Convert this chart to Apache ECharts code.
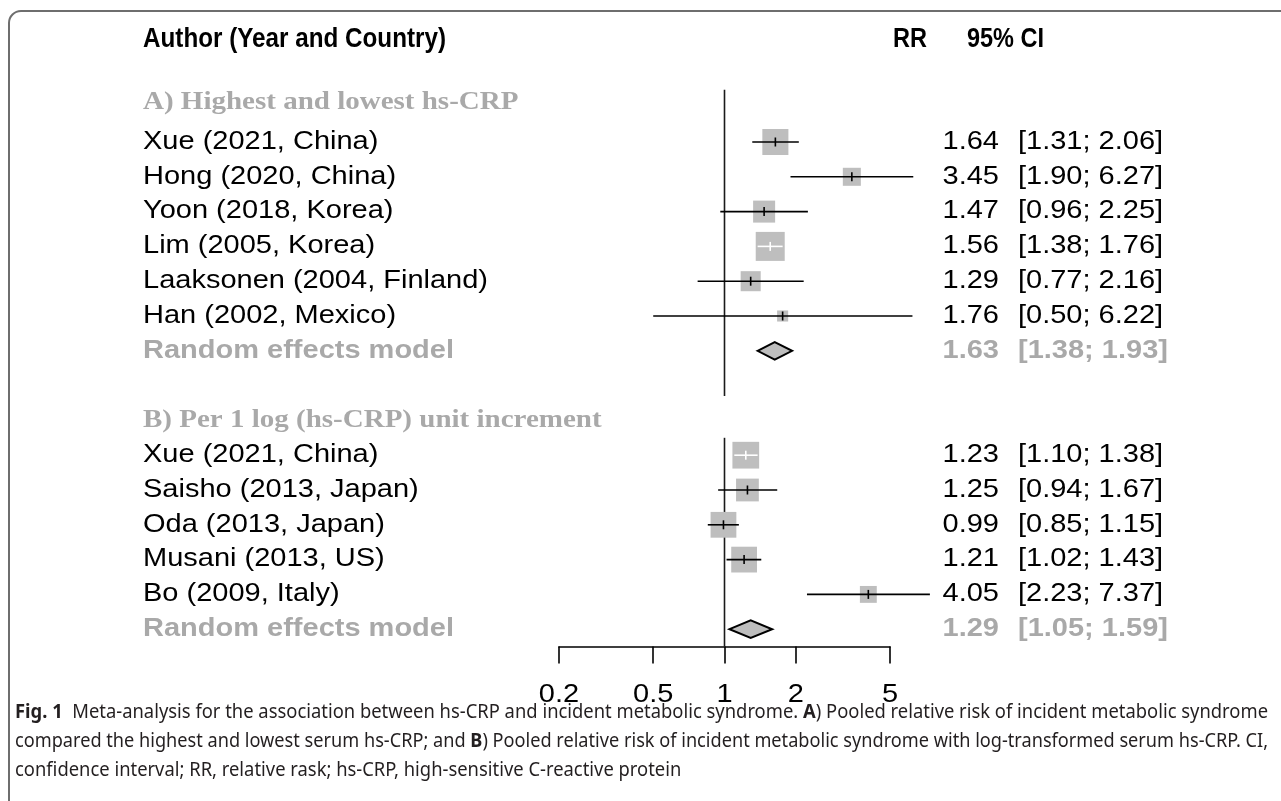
<!DOCTYPE html>
<html>
<head>
<meta charset="utf-8">
<script src="https://cdn.jsdelivr.net/npm/echarts@6/dist/echarts.min.js"></script>
<style>
html, body { margin: 0; padding: 0; background: #fff; }
#container { width: 1281px; height: 801px; }
</style>
</head>
<body>
<div id="container"></div>
<script>
// section A: highest vs lowest hs-CRP
var studiesA = ['Xue (2021, China)', 'Hong (2020, China)', 'Yoon (2018, Korea)', 'Lim (2005, Korea)', 'Laaksonen (2004, Finland)', 'Han (2002, Mexico)'];
var rrA = [1.64, 3.45, 1.47, 1.56, 1.29, 1.76];
var lowA = [1.31, 1.90, 0.96, 1.38, 0.77, 0.50];
var highA = [2.06, 6.27, 2.25, 1.76, 2.16, 6.22];
var weightA = [23.8, 11.4, 17.0, 29.5, 14.1, 4.3];
var pooledA = [1.63, 1.38, 1.93];

// section B: per 1 log unit increment
var studiesB = ['Xue (2021, China)', 'Saisho (2013, Japan)', 'Oda (2013, Japan)', 'Musani (2013, US)', 'Bo (2009, Italy)'];
var rrB = [1.23, 1.25, 0.99, 1.21, 4.05];
var lowB = [1.10, 0.94, 0.85, 1.02, 2.23];
var highB = [1.38, 1.67, 1.15, 1.43, 7.37];
var weightB = [25.1, 18.2, 23.3, 23.3, 10.0];
var pooledB = [1.29, 1.05, 1.59];

var xTicks = [0.2, 0.5, 1, 2, 5];

var groupTitles = ['A) Highest and lowest hs-CRP', 'B) Per 1 log (hs-CRP) unit increment'];
var pooledLabel = 'Random effects model';

var SANS = '"Liberation Sans", Arial, sans-serif';
var SERIF = '"Liberation Serif", "Times New Roman", serif';
var CAPFONT = '"Noto Sans", "Open Sans", sans-serif';
var STRETCH = 1.16;
var FS = 25;
var GRAY_TXT = '#a9a9a9';
var BOX = '#bebebe';
var MAXBOX = 29;

var ctx = document.createElement('canvas').getContext('2d');
function textWidth(str, font) {
	ctx.font = font;
	return ctx.measureText(str).width;
}
function fitScale(str, font, target) {
	return target / textWidth(str, font);
}

function buildRows() {
	var rows = [];
	var y = 0;
	rows.push({ kind: 'group', label: groupTitles[0], y: -1.12 });
	studiesA.forEach(function (s, i) {
		rows.push({ kind: 'study', label: s, rr: rrA[i], lo: lowA[i], hi: highA[i], w: weightA[i], y: y++ });
	});
	rows.push({ kind: 'pooled', label: pooledLabel, rr: pooledA[0], lo: pooledA[1], hi: pooledA[2], y: y++ });
	y++; // blank row
	rows.push({ kind: 'group', label: groupTitles[1], y: y++ });
	studiesB.forEach(function (s, i) {
		rows.push({ kind: 'study', label: s, rr: rrB[i], lo: lowB[i], hi: highB[i], w: weightB[i], y: y++ });
	});
	rows.push({ kind: 'pooled', label: pooledLabel, rr: pooledB[0], lo: pooledB[1], hi: pooledB[2], y: y++ });
	return rows;
}

var rows = buildRows();
var maxW = Math.max.apply(null, weightA.concat(weightB));
var lastA = studiesA.length;          // pooled row of A
var firstB = studiesA.length + 2;     // header row of B
var lastB = firstB + studiesB.length + 1;
var axisRow = lastB + 0.5;

// reference line at RR = 1, one piece per section
var refSegments = [[1, -1.5, lastA + 1.3], [1, firstB + 0.5, axisRow]];

function txt(x, y, text, opt) {
	opt = opt || {};
	return {
		type: 'text',
		x: x, y: y,
		scaleX: opt.scale || STRETCH,
		style: {
			text: text, x: 0, y: 0,
			align: opt.align || 'left',
			verticalAlign: 'middle',
			fontSize: opt.size || FS,
			fontFamily: opt.family || SANS,
			fontWeight: opt.bold ? 'bold' : 'normal',
			fill: opt.color || '#000'
		}
	};
}

function renderForest(params, api) {
	var r = rows[params.dataIndex];
	var c = api.coord([r.rr || 1, r.y]);
	var py = c[1];
	var children = [];

	if (r.kind === 'group') {
		children.push(txt(143, py, r.label, { family: SERIF, bold: true, color: GRAY_TXT }));
		return { type: 'group', children: children };
	}

	var l = api.coord([r.lo, r.y]);
	var h = api.coord([r.hi, r.y]);
	var ci = '[' + r.lo.toFixed(2) + '; ' + r.hi.toFixed(2) + ']';

	if (r.kind === 'study') {
		var size = MAXBOX * Math.sqrt(r.w / maxW);
		var inside = l[0] >= c[0] - size / 2 && h[0] <= c[0] + size / 2;
		var col = inside ? '#fff' : '#000';
		children.push({
			type: 'rect',
			shape: { x: c[0] - size / 2, y: py - size / 2, width: size, height: size },
			style: { fill: BOX }
		});
		children.push({
			type: 'line',
			shape: { x1: l[0], y1: py, x2: h[0], y2: py },
			style: { stroke: col, lineWidth: 1.6 }
		});
		children.push({
			type: 'line',
			shape: { x1: c[0], y1: py - 4.5, x2: c[0], y2: py + 4.5 },
			style: { stroke: col, lineWidth: 1.6 }
		});
		children.push(txt(143, py, r.label));
		children.push(txt(999, py, r.rr.toFixed(2), { align: 'right' }));
		children.push(txt(1018, py, ci));
	} else {
		children.push({
			type: 'polygon',
			shape: { points: [[l[0], py], [c[0], py - 8.8], [h[0], py], [c[0], py + 8.8]] },
			style: { fill: BOX, stroke: '#000', lineWidth: 2 }
		});
		children.push(txt(143, py, r.label, { bold: true, color: GRAY_TXT }));
		children.push(txt(999, py, r.rr.toFixed(2), { align: 'right', bold: true, color: GRAY_TXT }));
		children.push(txt(1018, py, ci, { bold: true, color: GRAY_TXT }));
	}
	return { type: 'group', children: children };
}

function renderRef(params, api) {
	var s = refSegments[params.dataIndex];
	var a = api.coord([s[0], s[1]]);
	var b = api.coord([s[0], s[2]]);
	return {
		type: 'line',
		shape: { x1: a[0], y1: a[1], x2: b[0], y2: b[1] },
		style: { stroke: '#1a1a1a', lineWidth: 1.6 }
	};
}

function renderTickLabel(params, api) {
	var v = xTicks[params.dataIndex];
	var p = api.coord([v, axisRow]);
	return txt(p[0], p[1] + 49, String(v), { align: 'center' });
}

var headFont = 'bold 27px ' + SANS;
var capSize = 20;
var capReg = capSize + 'px ' + CAPFONT;
var capBold = 'bold ' + capSize + 'px ' + CAPFONT;
var cap1 = [['Fig. 1', 1], ['  Meta-analysis for the association between hs-CRP and incident metabolic syndrome. ', 0], ['A', 1], [') Pooled relative risk of incident metabolic syndrome', 0]];
var cap2 = [['compared the highest and lowest serum hs-CRP; and ', 0], ['B', 1], [') Pooled relative risk of incident metabolic syndrome with log-transformed serum hs-CRP. CI,', 0]];
var cap3 = [['confidence interval; RR, relative rask; hs-CRP, high-sensitive C-reactive protein', 0]];

function capWidth(segs) {
	return segs.reduce(function (acc, s) { return acc + textWidth(s[0], s[1] ? capBold : capReg); }, 0);
}
function capText(segs) {
	return segs.map(function (s) { return s[1] ? '{b|' + s[0] + '}' : s[0]; }).join('');
}
var scale1 = 1253 / capWidth(cap1);
var scale2 = 1253 / capWidth(cap2);

function capLine(segs, y, sc) {
	return {
		type: 'text', x: 15, y: y, scaleX: sc,
		style: {
			text: capText(segs), x: 0, y: 0,
			verticalAlign: 'middle',
			fontSize: capSize, fontFamily: CAPFONT, fill: '#231f20',
			rich: { b: { fontWeight: 'bold', fontSize: capSize, fontFamily: CAPFONT, fill: '#231f20' } }
		}
	};
}

function headText(x, text, target) {
	return {
		type: 'text', x: x, y: 40, scaleX: fitScale(text, headFont, target),
		style: { text: text, x: 0, y: 0, verticalAlign: 'middle', fontSize: 27, fontWeight: 'bold', fontFamily: SANS, fill: '#000' }
	};
}

var chart = echarts.init(document.getElementById('container'));

var option = {
	animation: false,
	backgroundColor: '#fff',
	grid: { left: 559, right: 391, top: 2.8, bottom: 154.4 },
	xAxis: {
		type: 'log',
		logBase: 10,
		min: 0.2,
		max: 5,
		position: 'bottom',
		axisLine: { show: true, onZero: false, lineStyle: { color: '#000', width: 1.6 } },
		axisTick: { show: true, length: 17, customValues: xTicks, lineStyle: { color: '#000', width: 1.6 } },
		axisLabel: { show: false },
		splitLine: { show: false },
		minorTick: { show: false }
	},
	yAxis: {
		type: 'value',
		inverse: true,
		min: -4,
		max: axisRow,
		show: false
	},
	graphic: [
		{
			type: 'rect',
			shape: { x: 9, y: 11, width: 1320, height: 840, r: 12 },
			style: { fill: 'none', stroke: '#6e6e6e', lineWidth: 2 },
			silent: true
		},
		headText(143, 'Author (Year and Country)', 303),
		headText(893, 'RR', 34),
		headText(967, '95% CI', 77),
		capLine(cap1, 712, scale1),
		capLine(cap2, 741, scale2),
		capLine(cap3, 770, scale1)
	],
	series: [
		{
			type: 'custom',
			name: 'ref',
			silent: true,
			clip: false,
			renderItem: renderRef,
			encode: { x: 0, y: 1 },
			data: refSegments
		},
		{
			type: 'custom',
			name: 'forest',
			silent: true,
			clip: false,
			renderItem: renderForest,
			encode: { x: 0, y: 1 },
			data: rows.map(function (r) { return [r.rr || 1, r.y]; })
		},
		{
			type: 'custom',
			name: 'ticklabels',
			silent: true,
			clip: false,
			renderItem: renderTickLabel,
			encode: { x: 0, y: 1 },
			data: xTicks.map(function (v) { return [v, axisRow]; })
		}
	]
};

chart.setOption(option);
</script>
</body>
</html>
